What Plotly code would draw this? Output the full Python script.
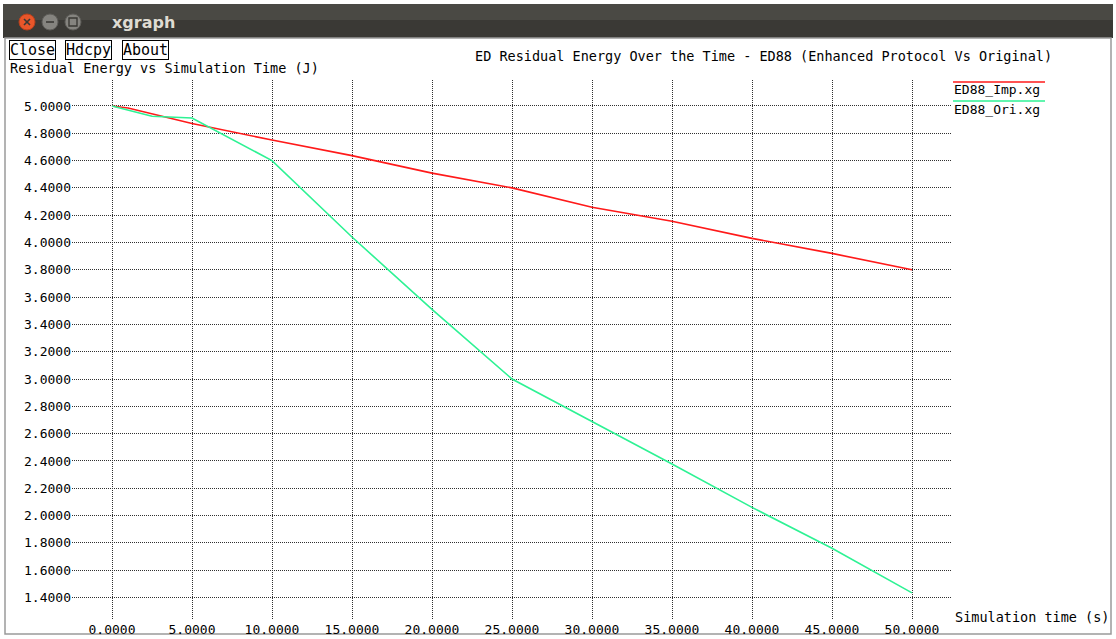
import plotly.graph_objects as go

# ---- data ----
time_imp = [0, 1, 5, 10, 15, 20, 25, 30, 35, 40, 45, 50]
energy_imp = [5.0, 4.985, 4.872, 4.75, 4.636, 4.508, 4.40, 4.258, 4.156, 4.03, 3.92, 3.80]
time_ori = [0, 2.5, 5, 10, 15, 20, 25, 30, 35, 40, 45, 50]
energy_ori = [5.0, 4.925, 4.912, 4.60, 4.04, 3.51, 3.00, 2.689, 2.378, 2.06, 1.76, 1.434]
series_names = ["ED88_Imp.xg", "ED88_Ori.xg"]
series_colors = ["#ff1a1a", "#2ef294"]

W, H = 1116, 639
L, R, T, B = 72, 952, 80, 620  # plot area in pixels

def px(x):
    return (x - L) / (R - L)

def py(y):
    return (B - y) / (B - T)

MONO = "DejaVu Sans Mono"

fig = go.Figure()
fig.add_trace(go.Scatter(x=time_imp, y=energy_imp, mode="lines", name=series_names[0],
                         line=dict(color=series_colors[0], width=1.6), showlegend=False))
fig.add_trace(go.Scatter(x=time_ori, y=energy_ori, mode="lines", name=series_names[1],
                         line=dict(color=series_colors[1], width=1.6), showlegend=False))

shapes = []
# title bar
shapes.append(dict(type="rect", xref="paper", yref="paper", x0=px(3), x1=px(1113), y0=py(4), y1=py(20),
                   fillcolor="#4a4944", line=dict(width=0), layer="below"))
shapes.append(dict(type="rect", xref="paper", yref="paper", x0=px(3), x1=px(1113), y0=py(20), y1=py(38),
                   fillcolor="#3a3935", line=dict(width=0), layer="below"))
# window frame
shapes.append(dict(type="rect", xref="paper", yref="paper", x0=px(5), x1=px(1111), y0=py(38), y1=py(634),
                   fillcolor="rgba(0,0,0,0)", line=dict(color="#9a9a9a", width=1.5), layer="below"))
# window buttons
shapes.append(dict(type="circle", xref="paper", yref="paper", x0=px(19), x1=px(35), y0=py(14), y1=py(30),
                   fillcolor="#e8562a", line=dict(color="#b8401c", width=1)))
shapes.append(dict(type="line", xref="paper", yref="paper", x0=px(24), x1=px(30), y0=py(19), y1=py(25),
                   line=dict(color="#3a3935", width=1.6)))
shapes.append(dict(type="line", xref="paper", yref="paper", x0=px(24), x1=px(30), y0=py(25), y1=py(19),
                   line=dict(color="#3a3935", width=1.6)))
shapes.append(dict(type="circle", xref="paper", yref="paper", x0=px(42), x1=px(58), y0=py(14), y1=py(30),
                   fillcolor="#85847f", line=dict(color="#5e5d59", width=1)))
shapes.append(dict(type="line", xref="paper", yref="paper", x0=px(46), x1=px(54), y0=py(22), y1=py(22),
                   line=dict(color="#3a3935", width=1.6)))
shapes.append(dict(type="circle", xref="paper", yref="paper", x0=px(65), x1=px(81), y0=py(14), y1=py(30),
                   fillcolor="#85847f", line=dict(color="#5e5d59", width=1)))
shapes.append(dict(type="rect", xref="paper", yref="paper", x0=px(69), x1=px(77), y0=py(18), y1=py(26),
                   fillcolor="rgba(0,0,0,0)", line=dict(color="#3a3935", width=1.4)))
# legend sample lines (above text, xgraph style)
shapes.append(dict(type="line", xref="paper", yref="paper", x0=px(953), x1=px(1045), y0=py(82), y1=py(82),
                   line=dict(color=series_colors[0], width=1.5)))
shapes.append(dict(type="line", xref="paper", yref="paper", x0=px(953), x1=px(1045), y0=py(101), y1=py(101),
                   line=dict(color=series_colors[1], width=1.5)))

annotations = []
annotations.append(dict(text="<b>xgraph</b>", xref="paper", yref="paper", x=px(110), y=py(22),
                        xanchor="left", yanchor="middle", showarrow=False,
                        font=dict(family="DejaVu Sans", size=16, color="#dfdbd2")))
# y axis title (just below the buttons)
annotations.append(dict(text="Residual Energy vs Simulation Time (J)", xref="paper", yref="paper",
                        x=px(8), y=py(68), xanchor="left", yanchor="middle", showarrow=False,
                        font=dict(family=MONO, size=13.5, color="black")))
for label, x0 in [("Close", 9), ("Hdcpy", 65), ("About", 122)]:
    annotations.append(dict(text=label, xref="paper", yref="paper", x=px(x0), y=py(50),
                            xanchor="left", yanchor="middle", showarrow=False,
                            bgcolor="white", bordercolor="black", borderwidth=1, borderpad=0,
                            font=dict(family=MONO, size=15, color="black")))
annotations.append(dict(text="ED Residual Energy Over the Time - ED88 (Enhanced Protocol Vs Original)",
                        xref="paper", yref="paper", x=px(763), y=py(56), xanchor="center", yanchor="middle",
                        showarrow=False, font=dict(family=MONO, size=13.5, color="black")))
annotations.append(dict(text=series_names[0], xref="paper", yref="paper", x=px(952), y=py(90),
                        xanchor="left", yanchor="middle", showarrow=False,
                        font=dict(family=MONO, size=13, color="black")))
annotations.append(dict(text=series_names[1], xref="paper", yref="paper", x=px(952), y=py(109),
                        xanchor="left", yanchor="middle", showarrow=False,
                        font=dict(family=MONO, size=13, color="black")))
annotations.append(dict(text="Simulation time (s)", xref="paper", yref="paper", x=px(953), y=py(617),
                        xanchor="left", yanchor="middle", showarrow=False,
                        font=dict(family=MONO, size=13.5, color="black")))

grid = dict(showgrid=True, gridcolor="#303030", gridwidth=1, griddash="1px,1px",
            zeroline=False, showline=False, ticks="", automargin=False)

fig.update_layout(
    width=W, height=H,
    margin=dict(l=L, r=W - R, t=T, b=H - B, pad=0, autoexpand=False),
    paper_bgcolor="white", plot_bgcolor="white",
    showlegend=False,
    shapes=shapes, annotations=annotations,
    xaxis=dict(range=[-2.5, 52.5], tick0=0, dtick=5, tickformat=".4f",
               tickfont=dict(family=MONO, size=13, color="black"), **grid),
    yaxis=dict(range=[1.235, 5.19], tick0=0, dtick=0.2, tickformat=".4f",
               tickfont=dict(family=MONO, size=13, color="black"), **grid),
)

fig.write_html("out.html", config={"displayModeBar": False},
               post_script="document.body.style.margin='0';document.body.style.overflow='hidden';")
